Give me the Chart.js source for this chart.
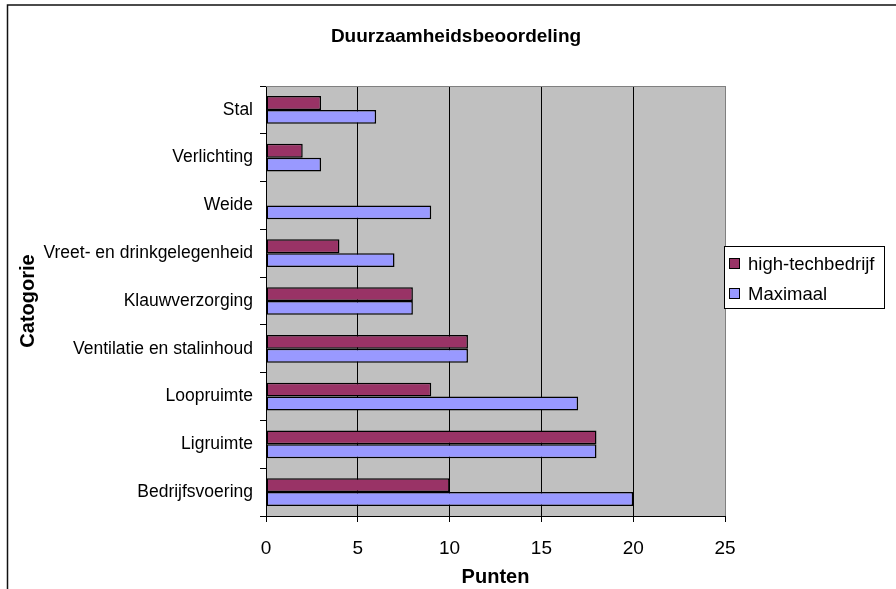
<!DOCTYPE html>
<html lang="nl">
<head>
<meta charset="UTF-8">
<title>Duurzaamheidsbeoordeling</title>
<script src="https://cdn.jsdelivr.net/npm/chart.js@4"></script>
<style>
  html, body { margin: 0; padding: 0; background: #fff; }
  #wrap { width: 896px; height: 589px; }
</style>
</head>
<body>
<div id="wrap"><canvas id="chart" width="896" height="589"></canvas></div>
<script>
// gegevens
const categorieen = ['Stal', 'Verlichting', 'Weide', 'Vreet- en drinkgelegenheid', 'Klauwverzorging',
                     'Ventilatie en stalinhoud', 'Loopruimte', 'Ligruimte', 'Bedrijfsvoering'];
const highTech = [3, 2, 0, 4, 8, 11, 9, 18, 10];
const maximaal = [6, 3, 9, 7, 8, 11, 17, 18, 20];
const puntenMin = 0;
const puntenMax = 25;
const puntenStap = 5;

const lettertype = "'Liberation Sans', Arial, sans-serif";
Chart.defaults.font.family = lettertype;
Chart.defaults.color = '#000';

// witte achtergrond, kader en grijs tekengebied
const achtergrond = {
  id: 'achtergrond',
  beforeDraw(chart) {
    const { ctx, chartArea: a } = chart;
    ctx.save();
    ctx.fillStyle = '#fff';
    ctx.fillRect(0, 0, chart.width, chart.height);
    ctx.strokeStyle = '#111';
    ctx.lineWidth = 1.5;
    ctx.beginPath();
    ctx.moveTo(chart.width, 5);
    ctx.lineTo(7.5, 5);
    ctx.lineTo(7.5, chart.height);
    ctx.stroke();
    ctx.fillStyle = '#C0C0C0';
    ctx.fillRect(a.left, a.top, a.right - a.left, a.bottom - a.top);
    ctx.restore();
  },
  beforeDatasetsDraw(chart) {
    const { ctx, chartArea: a } = chart;
    ctx.save();
    ctx.strokeStyle = '#808080';
    ctx.lineWidth = 1;
    ctx.beginPath();
    ctx.moveTo(a.left, a.top + 0.5);
    ctx.lineTo(a.right, a.top + 0.5);
    ctx.stroke();
    ctx.restore();
  }
};

// legenda met kader rechts van het tekengebied
const legendaKader = {
  id: 'legendaKader',
  afterDraw(chart) {
    const { ctx, chartArea: a } = chart;
    const x = a.right - 1, y = 246, w = 161, h = 63;
    ctx.save();
    ctx.fillStyle = '#fff';
    ctx.fillRect(x, y, w, h);
    ctx.strokeStyle = '#000';
    ctx.lineWidth = 1;
    ctx.strokeRect(x + 0.5, y + 0.5, w - 1, h - 1);
    ctx.font = '18.5px ' + lettertype;
    ctx.textBaseline = 'middle';
    chart.data.datasets.forEach((ds, i) => {
      const cy = y + 17.5 + i * 30;
      ctx.fillStyle = ds.backgroundColor;
      ctx.fillRect(x + 5, cy - 5.5, 11, 11);
      ctx.strokeRect(x + 5.5, cy - 5, 10, 10);
      ctx.fillStyle = '#000';
      ctx.fillText(ds.label, x + 24, cy + 1);
    });
    ctx.restore();
  }
};

const balk = { borderColor: '#000', borderWidth: 1.5, borderSkipped: false, categoryPercentage: 0.58, barPercentage: 1 };

new Chart(document.getElementById('chart'), {
  type: 'bar',
  data: {
    labels: categorieen,
    datasets: [
      Object.assign({ label: 'high-techbedrijf', data: highTech, backgroundColor: '#993366' }, balk),
      Object.assign({ label: 'Maximaal', data: maximaal, backgroundColor: '#9999FF' }, balk)
    ]
  },
  options: {
    indexAxis: 'y',
    responsive: false,
    animation: false,
    layout: { padding: { left: 16, top: 0, right: 0, bottom: 0 } },
    plugins: {
      legend: { display: false },
      tooltip: { enabled: false },
      title: {
        display: true,
        text: 'Duurzaamheidsbeoordeling',
        font: { size: 19, weight: 'bold' },
        color: '#000',
        padding: { top: 25.6, bottom: 37.6 }
      }
    },
    scales: {
      x: {
        min: puntenMin,
        max: puntenMax,
        ticks: { stepSize: puntenStap, font: { size: 19 }, color: '#000', padding: 15 },
        grid: {
          color: c => (c.tick && c.tick.value === puntenMax ? '#808080' : '#000'),
          tickColor: '#000',
          tickLength: 6,
          lineWidth: 1
        },
        border: { color: '#000' },
        title: { display: true, text: 'Punten', font: { size: 20, weight: 'bold' }, color: '#000', padding: { top: 0, bottom: 0 } },
        afterFit: s => { s.height = 73; }
      },
      y: {
        ticks: { font: { size: 17.5 }, color: '#000', padding: 7, autoSkip: false },
        grid: { offset: true, drawOnChartArea: false, tickLength: 6, color: '#000' },
        border: { color: '#000' },
        title: { display: true, text: 'Catogorie', font: { size: 20, weight: 'bold' }, color: '#000', padding: 0 },
        afterFit: s => { s.width = 250; }
      },
      ruimte: {
        type: 'linear',
        position: 'right',
        grid: { display: false },
        ticks: { display: false },
        border: { display: false },
        afterFit: s => { s.width = 171; }
      }
    }
  },
  plugins: [achtergrond, legendaKader]
});
</script>
</body>
</html>
